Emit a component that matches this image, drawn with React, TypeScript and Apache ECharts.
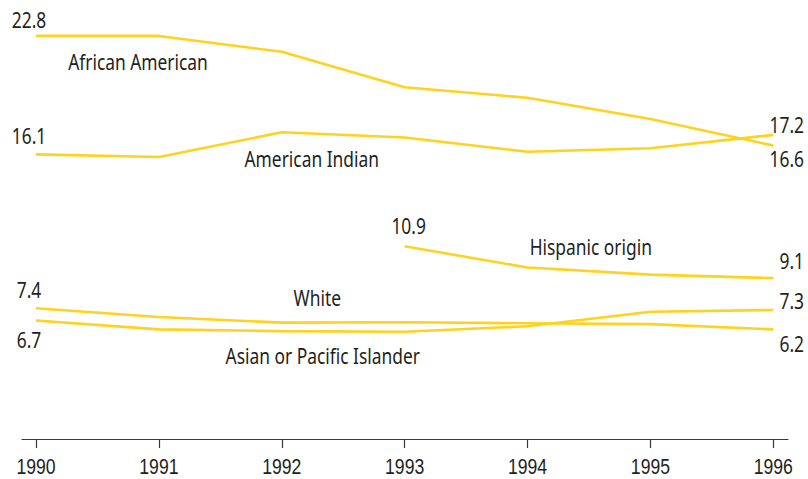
import React, { useEffect, useRef } from "react";
import * as echarts from "echarts";

const years = [1990, 1991, 1992, 1993, 1994, 1995, 1996];
const africanAmerican = [22.8, 22.8, 21.9, 19.9, 19.3, 18.1, 16.6];
const americanIndian = [16.1, 15.95, 17.35, 17.05, 16.25, 16.45, 17.2];
const hispanicYears = [1993, 1994, 1995, 1996];
const hispanic = [10.9, 9.7, 9.3, 9.1];
const white = [7.4, 6.9, 6.58, 6.6, 6.55, 6.5, 6.2];
const asianPacific = [6.7, 6.2, 6.1, 6.07, 6.38, 7.2, 7.3];

const FONT = "'Noto Sans', 'Open Sans', sans-serif";
const AXIS_FONT = "'Liberation Sans', Arial, sans-serif";
const TEXT = "#231f20";
const LINE = "#ffd21f";
const AXIS = "#3a3a3a";
const FS = 22;
const SX = 0.79;
const AXIS_SX = 0.8;

type Align = "left" | "center" | "right";

export default function App() {
  const ref = useRef<HTMLDivElement>(null);
  useEffect(() => {
    if (!ref.current) return;
    const chart = echarts.init(ref.current, null, { renderer: "svg" });
    const mk = (name: string, xs: number[], ys: number[]) => ({
      name,
      type: "line",
      data: xs.map((x, i) => [x, ys[i]]),
      showSymbol: false,
      symbol: "none",
      lineStyle: { color: LINE, width: 2.6 },
      emphasis: { disabled: true },
      silent: true,
      z: 2,
    });
    chart.setOption({
      animation: false,
      grid: { left: 22, right: 20, top: 14.7, bottom: 40, containLabel: false },
      xAxis: {
        type: "value",
        min: 1989.8861,
        max: 1996.1196,
        axisLine: { show: true, lineStyle: { color: AXIS, width: 1.2 } },
        axisTick: { show: true, length: 9, customValues: years, lineStyle: { color: AXIS, width: 1.2 } },
        axisLabel: { show: false },
        splitLine: { show: false },
      },
      yAxis: { type: "value", min: 0, max: 24, show: false, splitLine: { show: false } },
      series: [
        mk("African American", years, africanAmerican),
        mk("American Indian", years, americanIndian),
        mk("Hispanic origin", hispanicYears, hispanic),
        mk("White", years, white),
        mk("Asian or Pacific Islander", years, asianPacific),
      ],
    });

    const toPx = (x: number, y: number) => chart.convertToPixel({ gridIndex: 0 }, [x, y]) as number[];
    const txt = (text: string, x: number, y: number, align: Align, font = FONT, sx = SX) => ({
      type: "text",
      x,
      y,
      scaleX: sx,
      silent: true,
      style: { text, fill: TEXT, font: `${FS}px ${font}`, align, verticalAlign: "middle" },
    });
    const valLabel = (x: number, y: number, dx: number, dy: number, align: Align) => {
      const p = toPx(x, y);
      return txt(y.toFixed(1), p[0] + dx, p[1] + dy, align);
    };
    const f = 0;
    const lAA = africanAmerican.length - 1;
    const lH = hispanic.length - 1;
    const graphics: any[] = [
      valLabel(years[f], africanAmerican[f], -7, -16.5, "center"),
      valLabel(years[lAA], africanAmerican[lAA], 30.7, 13.2, "right"),
      valLabel(years[f], americanIndian[f], -7, -18.6, "center"),
      valLabel(years[lAA], americanIndian[lAA], 30.7, -10.4, "right"),
      valLabel(hispanicYears[f], hispanic[f], 4, -21, "center"),
      valLabel(hispanicYears[lH], hispanic[lH], 30.7, -17, "right"),
      valLabel(years[f], white[f], -7, -18.2, "center"),
      valLabel(years[lAA], white[lAA], 30.7, 14.6, "right"),
      valLabel(years[f], asianPacific[f], -7, 18.7, "center"),
      valLabel(years[lAA], asianPacific[lAA], 30.7, -9, "right"),
      txt("African American", 138, 62, "center"),
      txt("American Indian", 311.7, 159, "center"),
      txt("Hispanic origin", 590.8, 246.5, "center"),
      txt("White", 317.3, 298, "center"),
      txt("Asian or Pacific Islander", 322.7, 355.8, "center"),
    ];
    years.forEach((yr) => {
      const p = toPx(yr, 0);
      graphics.push(txt(String(yr), p[0], p[1] + 27.3, "center", AXIS_FONT, AXIS_SX));
    });
    chart.setOption({ graphic: graphics });
    return () => chart.dispose();
  }, []);
  return <div ref={ref} style={{ width: 808, height: 479, position: "absolute", left: 0, top: 0 }} />;
}
